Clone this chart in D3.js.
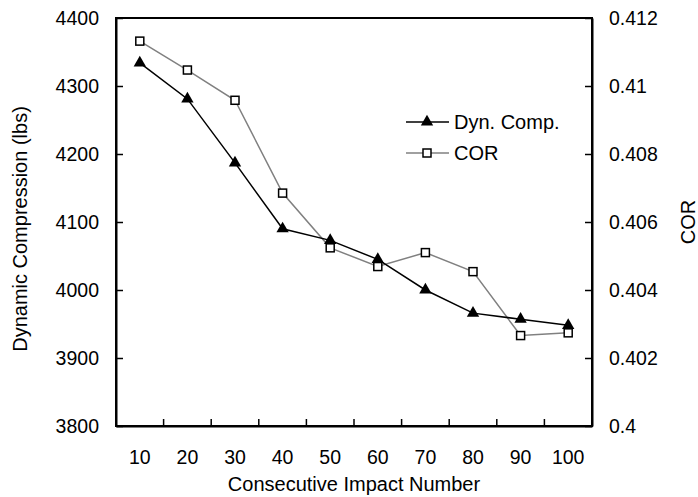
<!DOCTYPE html>
<html>
<head>
<meta charset="utf-8">
<script src="https://cdn.jsdelivr.net/npm/d3@7"></script>
<style>
  body { margin: 0; background: #fff; }
  text { font-family: "Liberation Sans", Arial, sans-serif; fill: #000; }
</style>
</head>
<body>
<div id="chart"></div>
<script>
// data
var impacts = [10, 20, 30, 40, 50, 60, 70, 80, 90, 100];
var dynComp = [4334, 4281, 4187, 4090, 4073, 4045, 4000, 3966, 3957, 3948];
var cor = [0.41132, 0.41047, 0.40958, 0.40685, 0.40524, 0.40469, 0.40510, 0.40454, 0.40266, 0.40274];
var leftTicks = [3800, 3900, 4000, 4100, 4200, 4300, 4400];
var rightTicks = [0.4, 0.402, 0.404, 0.406, 0.408, 0.41, 0.412];
var rightTickLabels = ["0.4", "0.402", "0.404", "0.406", "0.408", "0.41", "0.412"];

var width = 698, height = 497;
var margin = { top: 18, right: 106, bottom: 71, left: 116 };
var w = width - margin.left - margin.right;
var h = height - margin.top - margin.bottom;
var fontSize = 19.5;
var titleSize = 20;

var svg = d3.select("#chart").append("svg")
  .attr("width", width)
  .attr("height", height);

var g = svg.append("g")
  .attr("transform", "translate(" + margin.left + "," + margin.top + ")");

// scales
var x = d3.scaleBand().domain(impacts).range([0, w]);
var yLeft = d3.scaleLinear().domain([3800, 4400]).range([h, 0]);
var yRight = d3.scaleLinear().domain([0.4, 0.412]).range([h, 0]);

// plot frame
g.append("rect")
  .attr("width", w)
  .attr("height", h)
  .attr("fill", "none")
  .attr("stroke", "#000")
  .attr("stroke-width", 2);

// left axis, ticks inside
var leftAxis = g.append("g")
  .call(d3.axisLeft(yLeft).tickValues(leftTicks).tickFormat(d3.format("d"))
    .tickSizeInner(-7).tickSizeOuter(0).tickPadding(17));

// right axis, ticks inside
var rightAxis = g.append("g")
  .attr("transform", "translate(" + w + ",0)")
  .call(d3.axisRight(yRight).tickValues(rightTicks)
    .tickFormat(function (d, i) { return rightTickLabels[i]; })
    .tickSizeInner(-7).tickSizeOuter(0).tickPadding(17));

// bottom axis: labels at band centers, ticks between bands
var bottomAxis = g.append("g")
  .attr("transform", "translate(0," + h + ")")
  .call(d3.axisBottom(x).tickSize(0).tickPadding(24));

g.append("g").selectAll("line")
  .data(impacts.slice(1))
  .enter().append("line")
  .attr("x1", function (d) { return x(d); })
  .attr("x2", function (d) { return x(d); })
  .attr("y1", h)
  .attr("y2", h - 7)
  .attr("stroke", "#000")
  .attr("stroke-width", 1.5);

[leftAxis, rightAxis, bottomAxis].forEach(function (a) {
  a.attr("font-size", fontSize).attr("font-family", "Liberation Sans, Arial, sans-serif");
  a.select(".domain").attr("stroke", "#000").attr("stroke-width", 2);
  a.selectAll(".tick line").attr("stroke", "#000").attr("stroke-width", 1.5);
  a.selectAll("text").attr("fill", "#000");
});

// lines
var dynLine = d3.line()
  .x(function (d, i) { return x(impacts[i]) + x.bandwidth() / 2; })
  .y(function (d) { return yLeft(d); });

var corLine = d3.line()
  .x(function (d, i) { return x(impacts[i]) + x.bandwidth() / 2; })
  .y(function (d) { return yRight(d); });

g.append("path")
  .datum(cor)
  .attr("fill", "none")
  .attr("stroke", "#808080")
  .attr("stroke-width", 1.5)
  .attr("d", corLine);

g.append("path")
  .datum(dynComp)
  .attr("fill", "none")
  .attr("stroke", "#000")
  .attr("stroke-width", 1.5)
  .attr("d", dynLine);

var triangle = d3.symbol().type(d3.symbolTriangle).size(66);

g.append("g").selectAll("rect")
  .data(cor)
  .enter().append("rect")
  .attr("x", function (d, i) { return x(impacts[i]) + x.bandwidth() / 2 - 4; })
  .attr("y", function (d) { return yRight(d) - 4; })
  .attr("width", 8)
  .attr("height", 8)
  .attr("fill", "#fff")
  .attr("stroke", "#000")
  .attr("stroke-width", 1.5);

g.append("g").selectAll("path")
  .data(dynComp)
  .enter().append("path")
  .attr("d", triangle)
  .attr("transform", function (d, i) {
    return "translate(" + (x(impacts[i]) + x.bandwidth() / 2) + "," + yLeft(d) + ")";
  })
  .attr("fill", "#000");

// legend
var legend = svg.append("g").attr("transform", "translate(406,122)");
legend.append("line").attr("x1", 0).attr("x2", 43).attr("y1", 0).attr("y2", 0)
  .attr("stroke", "#000").attr("stroke-width", 1.5);
legend.append("path").attr("d", triangle).attr("transform", "translate(21,0)").attr("fill", "#000");
legend.append("text").attr("x", 48).attr("y", 7).attr("font-size", titleSize).text("Dyn. Comp.");

legend.append("line").attr("x1", 0).attr("x2", 43).attr("y1", 31).attr("y2", 31)
  .attr("stroke", "#808080").attr("stroke-width", 1.5);
legend.append("rect").attr("x", 17).attr("y", 27).attr("width", 8).attr("height", 8)
  .attr("fill", "#fff").attr("stroke", "#000").attr("stroke-width", 1.5);
legend.append("text").attr("x", 48).attr("y", 38).attr("font-size", titleSize).text("COR");

// axis titles
svg.append("text")
  .attr("transform", "translate(26.5,229) rotate(-90)")
  .attr("text-anchor", "middle")
  .attr("font-size", titleSize)
  .text("Dynamic Compression (lbs)");

svg.append("text")
  .attr("transform", "translate(695," + (margin.top + h / 2) + ") rotate(-90)")
  .attr("text-anchor", "middle")
  .attr("font-size", titleSize)
  .text("COR");

svg.append("text")
  .attr("x", margin.left + w / 2)
  .attr("y", 491)
  .attr("text-anchor", "middle")
  .attr("font-size", titleSize)
  .text("Consecutive Impact Number");
</script>
</body>
</html>
